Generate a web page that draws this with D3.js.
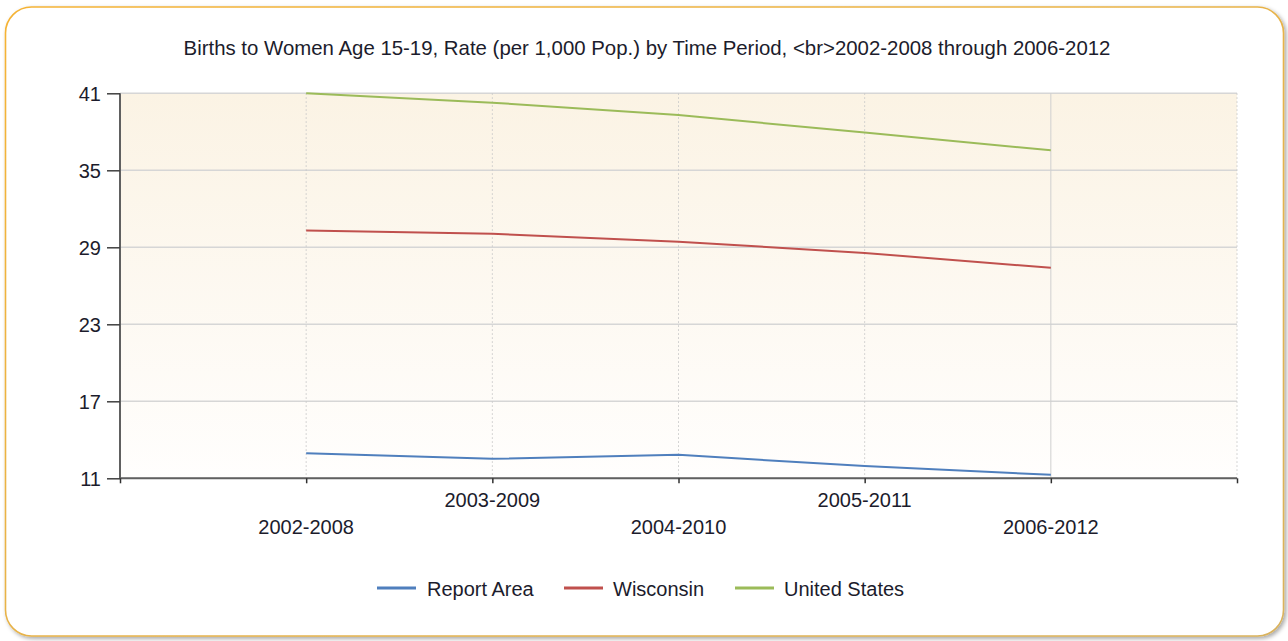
<!DOCTYPE html>
<html>
<head>
<meta charset="utf-8">
<script src="https://cdn.jsdelivr.net/npm/d3@7/dist/d3.min.js"></script>
<style>
  html, body { margin: 0; padding: 0; background: #ffffff; }
  svg { display: block; }
  text { font-family: "Liberation Sans", Arial, sans-serif; fill: #1c1c2c; }
</style>
</head>
<body>
<svg id="chart" width="1288" height="641"></svg>
<script>
// Time periods on the x axis
const periods = ["2002-2008", "2003-2009", "2004-2010", "2005-2011", "2006-2012"];
// Birth rates per 1,000 women aged 15-19
const reportArea = [12.96, 12.52, 12.83, 11.95, 11.27];
const wisconsin = [30.3, 30.05, 29.44, 28.56, 27.4];
const unitedStates = [41.0, 40.27, 39.3, 37.95, 36.56];
const yTicks = [11, 17, 23, 29, 35, 41];
const seriesNames = ["Report Area", "Wisconsin", "United States"];
const seriesColors = ["#4f7fbd", "#c0504d", "#9bbb59"];
const title = "Births to Women Age 15-19, Rate (per 1,000 Pop.) by Time Period, <br>2002-2008 through 2006-2012";

const svg = d3.select("#chart");
const defs = svg.append("defs");

// Card shadow
const shadow = defs.append("filter").attr("id", "cardShadow")
  .attr("x", "-5%").attr("y", "-5%").attr("width", "110%").attr("height", "110%");
shadow.append("feDropShadow").attr("dx", 2).attr("dy", 2).attr("stdDeviation", 2)
  .attr("flood-color", "#000").attr("flood-opacity", 0.35);

// Plot area fill
const grad = defs.append("linearGradient").attr("id", "plotFill")
  .attr("x1", 0).attr("y1", 0).attr("x2", 0).attr("y2", 1);
grad.append("stop").attr("offset", "0%").attr("stop-color", "#fbf3e4");
grad.append("stop").attr("offset", "100%").attr("stop-color", "#fffefd");

// Card border gradient (orange at top-left, gold at bottom-right)
const bgrad = defs.append("linearGradient").attr("id", "cardStroke")
  .attr("x1", 0).attr("y1", 0).attr("x2", 1).attr("y2", 1);
bgrad.append("stop").attr("offset", "0%").attr("stop-color", "#f5b335");
bgrad.append("stop").attr("offset", "100%").attr("stop-color", "#d9b25c");

// Inner shading near the card's lower edge
const innerShade = defs.append("linearGradient").attr("id", "innerShade")
  .attr("x1", 0).attr("y1", 0).attr("x2", 0).attr("y2", 1);
innerShade.append("stop").attr("offset", "0%").attr("stop-color", "#ffffff").attr("stop-opacity", 0);
innerShade.append("stop").attr("offset", "100%").attr("stop-color", "#9a9a9a").attr("stop-opacity", 0.55);

svg.append("rect")
  .attr("x", 5.5).attr("y", 7).attr("width", 1278).attr("height", 629)
  .attr("rx", 26).attr("ry", 26)
  .attr("fill", "#ffffff")
  .attr("stroke", "url(#cardStroke)").attr("stroke-width", 1.6)
  .attr("filter", "url(#cardShadow)");

const plot = { left: 120, right: 1237, top: 93.3, bottom: 478.3 };

// Category positions with one empty slot on each side
const slots = ["", ...periods, " "];
const x = d3.scalePoint().domain(slots).range([plot.left, plot.right]);
const y = d3.scaleLinear().domain([11, 41]).range([plot.bottom, plot.top]);

svg.append("rect")
  .attr("x", plot.left).attr("y", plot.top)
  .attr("width", plot.right - plot.left).attr("height", plot.bottom - plot.top)
  .attr("fill", "url(#plotFill)");

// Horizontal gridlines
svg.append("g").selectAll("line").data(yTicks).join("line")
  .attr("x1", plot.left).attr("x2", plot.right)
  .attr("y1", d => y(d)).attr("y2", d => y(d))
  .attr("stroke", "#d6d6d6").attr("stroke-width", 1.5);

// Vertical gridlines (dotted, last category solid)
svg.append("g").selectAll("line").data(slots.slice(1)).join("line")
  .attr("x1", d => x(d)).attr("x2", d => x(d))
  .attr("y1", plot.top).attr("y2", plot.bottom)
  .attr("stroke", (d, i) => i === periods.length - 1 ? "#cfcfcf" : "#c8c8c8")
  .attr("stroke-width", 1)
  .attr("stroke-dasharray", (d, i) => i === periods.length - 1 ? null : "1.5,2.5");

// Y axis
const yAxis = d3.axisLeft(y).tickValues(yTicks).tickSize(13).tickPadding(6);
const gy = svg.append("g").attr("transform", `translate(${plot.left},0)`).call(yAxis);
gy.select(".domain").attr("stroke", "#606060").attr("stroke-width", 2)
  .attr("d", `M0,${plot.top}V${plot.bottom}`);
gy.selectAll(".tick line").attr("stroke", "#404040").attr("stroke-width", 1.5);
gy.selectAll(".tick text").attr("font-size", 20).attr("dy", "0.36em")
  .style("font-family", "'Liberation Sans', Arial, sans-serif").attr("fill", "#1c1c2c");

// X axis
const xAxis = d3.axisBottom(x).tickSize(5).tickFormat("");
const gx = svg.append("g").attr("transform", `translate(0,${plot.bottom})`).call(xAxis);
gx.select(".domain").attr("stroke", "#606060").attr("stroke-width", 2)
  .attr("d", `M${plot.left},0H${plot.right}`);
gx.selectAll(".tick line").attr("stroke", "#303030").attr("stroke-width", 1.5);

// Staggered category labels
svg.append("g").selectAll("text").data(periods).join("text")
  .attr("x", d => x(d))
  .attr("y", (d, i) => i % 2 === 0 ? 534 : 507)
  .attr("text-anchor", "middle")
  .attr("font-size", 20)
  .text(d => d);

// Series lines
const series = [reportArea, wisconsin, unitedStates];
const line = d3.line().x((d, i) => x(periods[i])).y(d => y(d));
svg.append("g").selectAll("path").data(series).join("path")
  .attr("d", d => line(d))
  .attr("fill", "none")
  .attr("stroke", (d, i) => seriesColors[i])
  .attr("stroke-width", 2);

// Title
svg.append("text")
  .attr("x", 647).attr("y", 55)
  .attr("text-anchor", "middle")
  .attr("font-size", 20.4)
  .text(title);

// Legend
const legendItems = [
  { name: seriesNames[0], x: 377, gap: 50 },
  { name: seriesNames[1], x: 564, gap: 49 },
  { name: seriesNames[2], x: 735, gap: 49 }
];
const lg = svg.append("g").selectAll("g").data(legendItems).join("g")
  .attr("transform", d => `translate(${d.x},588)`);
lg.append("line").attr("x1", 0).attr("x2", 39).attr("y1", 0).attr("y2", 0)
  .attr("stroke", (d, i) => seriesColors[i]).attr("stroke-width", 3);
lg.append("text").attr("x", d => d.gap).attr("y", 8).attr("font-size", 20).text(d => d.name);
</script>
</body>
</html>
